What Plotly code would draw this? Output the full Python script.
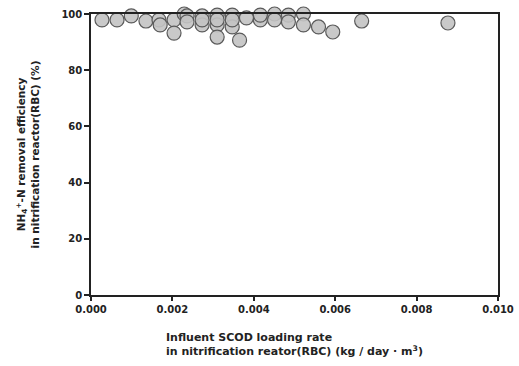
import plotly.graph_objects as go

# Influent SCOD loading rate (kg/day·m3)
loading_rate = [0.00027, 0.00064, 0.00099, 0.00135, 0.00167, 0.00170, 0.00204, 0.00204,
                0.00229, 0.00236, 0.00236, 0.00273, 0.00273, 0.00273, 0.00310, 0.00310,
                0.00310, 0.00310, 0.00347, 0.00347, 0.00347, 0.00365, 0.00382, 0.00416,
                0.00416, 0.00451, 0.00451, 0.00485, 0.00485, 0.00522, 0.00522, 0.00559,
                0.00594, 0.00665, 0.00877]
# NH4+-N removal efficiency (%)
removal_eff = [97.9, 97.9, 99.3, 97.5, 97.9, 96.1, 97.9, 93.2,
               100.0, 99.3, 97.2, 99.3, 96.1, 97.9, 99.6, 96.1,
               91.8, 97.9, 99.6, 95.4, 97.9, 90.7, 98.6, 97.9,
               99.6, 100.0, 97.9, 99.6, 97.2, 100.0, 96.1, 95.4,
               93.6, 97.5, 96.8]

x_ticks = [0.000, 0.002, 0.004, 0.006, 0.008, 0.010]
x_tick_labels = ["0.000", "0.002", "0.004", "0.006", "0.008", "0.010"]
y_ticks = [0, 20, 40, 60, 80, 100]

font = dict(family="DejaVu Sans, Arial, sans-serif", size=10, color="#222", weight="bold")

fig = go.Figure()
fig.add_trace(go.Scatter(
    x=loading_rate, y=removal_eff, mode="markers",
    marker=dict(size=14, color="rgba(195,195,195,0.9)",
                line=dict(color="#5a5a5a", width=1.2)),
    cliponaxis=False, showlegend=False,
))

fig.update_layout(
    width=519, height=366,
    margin=dict(l=91, r=21, t=14, b=71),
    paper_bgcolor="white", plot_bgcolor="white",
    font=font,
    xaxis=dict(range=[0, 0.010], tickvals=x_ticks, ticktext=x_tick_labels,
               automargin=False,
               showgrid=False, zeroline=False, showline=True, linecolor="#222",
               linewidth=1.5, mirror=True, ticks="outside", ticklen=4,
               tickwidth=1.5, tickcolor="#222", tickfont=dict(size=10)),
    yaxis=dict(range=[0, 100], tickvals=y_ticks, automargin=False,
               showgrid=False, zeroline=False, showline=True, linecolor="#222",
               linewidth=1.5, mirror=True, ticks="outside", ticklen=5,
               tickwidth=1.5, tickcolor="#222", tickfont=dict(size=10),
               title=dict(text="NH<sub>4</sub><sup>+</sup>-N removal efficiency<br>in nitrification reactor(RBC) (%)",
                          font=dict(size=10.5), standoff=20)),
)

fig.add_annotation(
    text="Influent SCOD loading rate<br>in nitrification reator(RBC) (kg / day · m<sup>3</sup>)",
    xref="paper", yref="paper", x=0.5, y=-0.12, xanchor="center", yanchor="top",
    align="left", showarrow=False, font=dict(size=11),
)

fig.write_html("out.html")
